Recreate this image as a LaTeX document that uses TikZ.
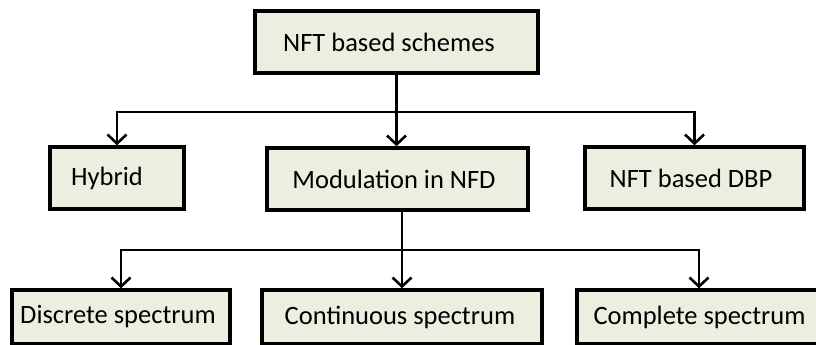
\documentclass[tikz,border=0pt]{standalone}
\usepackage{fontspec}
\setmainfont{Carlito}
\definecolor{boxfill}{RGB}{235, 239, 223}
\usetikzlibrary{arrows.meta, positioning, calc}

\begin{document}
\begin{tikzpicture}[x=1pt, y=-1pt,
  blk/.style={draw, line width=3.4pt, fill=boxfill, minimum height=62pt,
              inner sep=4pt, font=\fontsize{26.5}{30}\selectfont, anchor=center},
  link/.style={line width=2.6pt, -{Straight Barb[length=9pt, width=19pt]}},
  twolink/.style={line width=2.6pt, {Straight Barb[length=9pt, width=19pt]}-{Straight Barb[length=9pt, width=19pt]}},
]
\useasboundingbox (0,0) rectangle (816,345);
\clip (0,0) rectangle (816,345);

% top level
\node[blk, minimum width=283pt] (schemes) at (396.5,42) {NFT based schemes\hspace*{15pt}};

% second level
\node[blk, minimum width=134pt] (hybrid) at (117,178) {Hybrid\hspace*{20pt}};
\node[blk, minimum width=261pt] (modul) at (397.5,179) {Modulation in NFD\hspace*{7pt}};
\node[blk, minimum width=219pt] (dbp) at (694.5,178) {NFT based DBP\hspace*{7pt}};

% third level (last box runs past the right edge)
\node[blk, minimum width=218pt, minimum height=54pt] (discrete) at (121,317) {Discrete spectrum\hspace*{6pt}};
\node[blk, minimum width=280pt, minimum height=54pt] (continuous) at (402,317) {Continuous spectrum\hspace*{4pt}};
\node[blk, minimum width=270pt, minimum height=54pt] (complete) at (712,317) {Complete spectrum\hspace*{25pt}};

\coordinate (j1) at (396.5,112);
\coordinate (j2) at (402,250);

\draw[link] (schemes) -- (schemes |- modul.north);
\draw[twolink] (hybrid) |- (j1) -| (dbp);

\draw[link] (modul.south -| continuous.north) -- (continuous.north);
\draw[twolink] (discrete) |- (j2) -| ([xshift=-13pt]complete.north);
\end{tikzpicture}
\end{document}
